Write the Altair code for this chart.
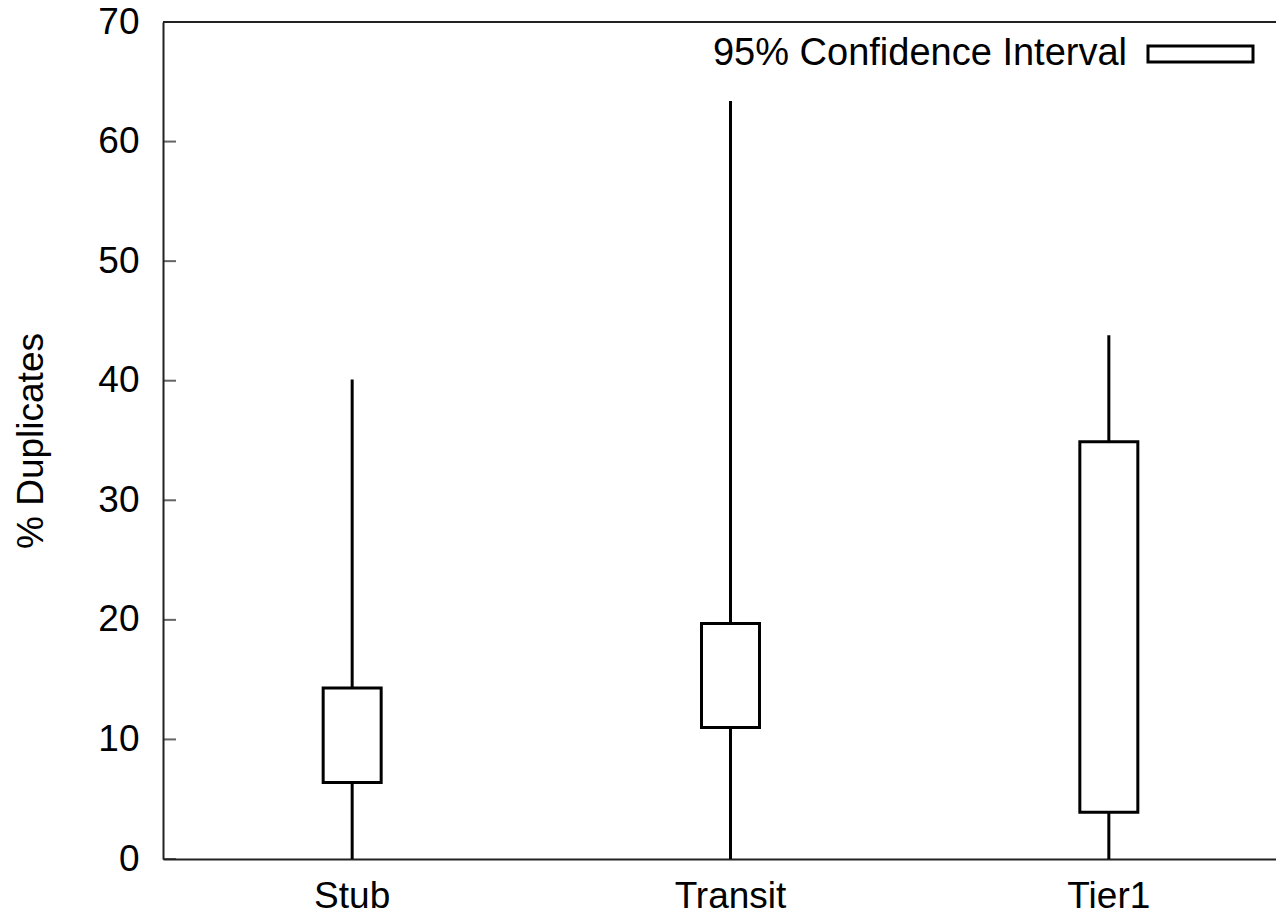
import altair as alt
import pandas as pd

categories = ["Stub", "Transit", "Tier1"]
whisker_low = [0.0, 0.0, 0.0]
whisker_high = [40.1, 63.4, 43.8]
box_low = [6.4, 11.0, 3.9]
box_high = [14.3, 19.7, 34.9]
y_ticks = [0, 10, 20, 30, 40, 50, 60, 70]
legend_label = ["95% Confidence Interval"]

df = pd.DataFrame({
    "cat": categories,
    "wlo": whisker_low,
    "whi": whisker_high,
    "blo": box_low,
    "bhi": box_high,
})
ticks_df = pd.DataFrame({"v": y_ticks})
leg_df = pd.DataFrame({"label": legend_label})

FONT = "Liberation Sans"
FS = 37

x_scale = alt.Scale(paddingInner=0, paddingOuter=0, range=[0, 1135])
x_enc = alt.X("cat:N", sort=categories, scale=x_scale,
              axis=alt.Axis(title=None, labelAngle=0, ticks=False, tickSize=0,
                            labelPadding=19, labelFont=FONT, labelFontSize=FS,
                            labelColor="black", domainColor="#222",
                            domainWidth=2))
y_scale = alt.Scale(domain=[0, 70], nice=False, zero=True)
y_axis = alt.Axis(title="% Duplicates", values=y_ticks, ticks=False, tickSize=0,
                  grid=False, labelPadding=24, labelFont=FONT, labelFontSize=FS,
                  labelColor="black", titleFont=FONT, titleFontSize=FS,
                  titleFontWeight="normal", titleColor="black", titlePadding=47,
                  domainColor="#222", domainWidth=2)

whisk = alt.Chart(df).mark_rule(color="black", strokeWidth=3).encode(
    x=x_enc,
    y=alt.Y("wlo:Q", scale=y_scale, axis=y_axis),
    y2="whi:Q",
)
box = alt.Chart(df).mark_bar(fill="white", stroke="black", strokeWidth=3,
                             size=58).encode(
    x=alt.X("cat:N", sort=categories),
    y="blo:Q",
    y2="bhi:Q",
)
inner_ticks = alt.Chart(ticks_df).mark_tick(color="#222", thickness=2, size=13,
                                            orient="horizontal").encode(
    y="v:Q",
    x=alt.value(6.5),
)
top_border = alt.Chart(ticks_df.head(1)).mark_rule(color="#222", strokeWidth=2).encode(
    y=alt.datum(70),
)
leg_text = alt.Chart(leg_df).mark_text(align="right", baseline="middle",
                                       font=FONT, fontSize=38, color="black").encode(
    text="label:N",
    x=alt.value(964),
    y=alt.value(32),
)
leg_box = alt.Chart(leg_df).mark_rect(fill="white", stroke="black",
                                      strokeWidth=3).encode(
    x=alt.value(985), x2=alt.value(1090),
    y=alt.value(24), y2=alt.value(40),
)

chart = alt.layer(whisk, box, inner_ticks, top_border, leg_text, leg_box).properties(
    width=1113, height=837,
    autosize=alt.AutoSizeParams(type="none"),
    padding={"left": 155, "top": 14, "right": 0, "bottom": 62},
    background="white",
).configure_view(stroke=None)

chart.save("out.html", embed_options={"renderer": "svg", "actions": False})
